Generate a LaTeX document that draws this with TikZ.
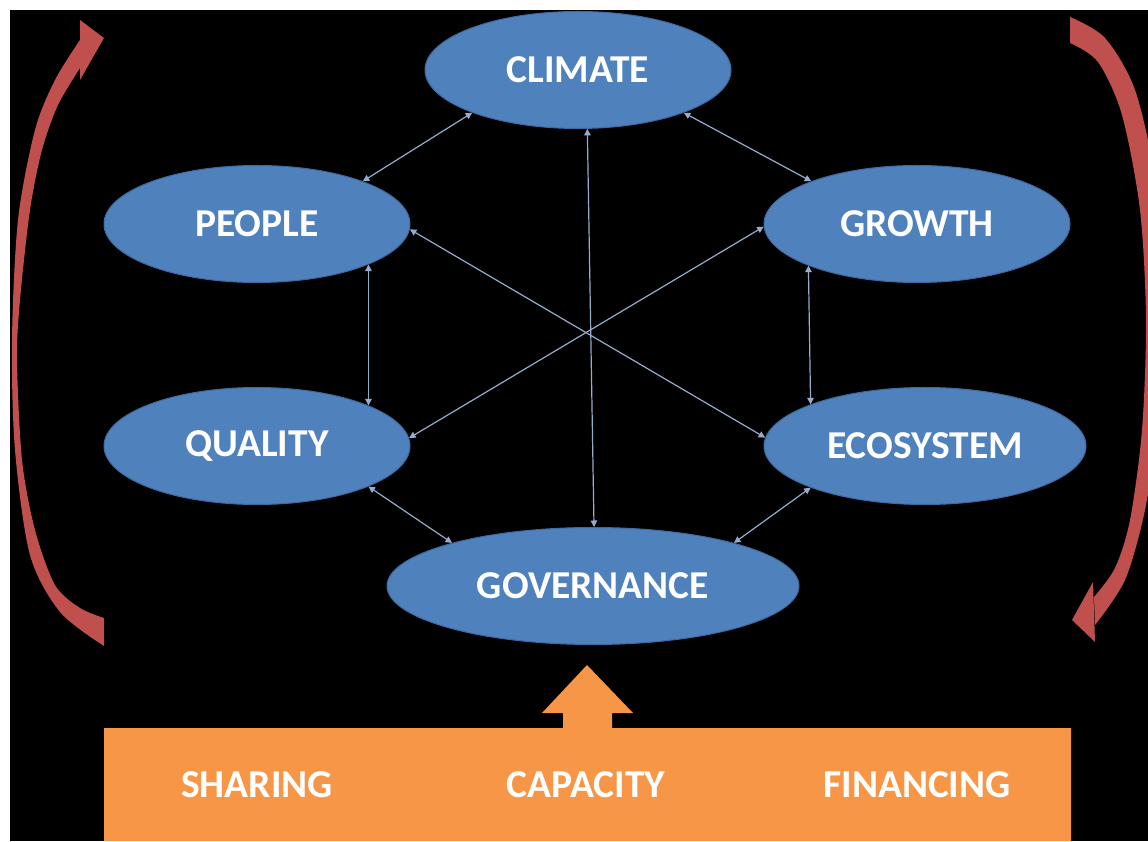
\documentclass[tikz,border=0pt]{standalone}
\usepackage{fontspec}
\setmainfont{Carlito}
\usetikzlibrary{shapes.geometric,arrows.meta}
\definecolor{boxblue}{HTML}{4F81BD}
\definecolor{rimblue}{HTML}{3D6AA0}
\definecolor{linkgray}{RGB}{150,172,205}
\definecolor{boxorange}{HTML}{F79646}
\definecolor{turnred}{HTML}{C0504D}
\tikzset{
  bubble/.style={ellipse,fill=boxblue,draw=rimblue,line width=1pt,inner sep=0pt,
    minimum width=306pt,minimum height=117pt,text=white,font=\fontsize{39.5}{42}\selectfont\bfseries},
  link/.style={draw=linkgray,line width=1.2pt,{Triangle[width=6.5pt,length=6.5pt]}-{Triangle[width=6.5pt,length=6.5pt]}},
  foot/.style={text=white,font=\fontsize{39.5}{42}\selectfont\bfseries}
}
\begin{document}
\begin{tikzpicture}[x=1pt,y=1pt]
    \useasboundingbox (0,0) rectangle (1148,841);
    \clip (0,0) rectangle (1148,841);
    \fill[black] (10,0) rectangle (1148,831);
    % the two turning arrows (screen coordinates)
    \begin{scope}[shift={(0,841)},yscale=-1]
    \fill[turnred] plot[smooth] coordinates {(104,646) (60,612) (30,555) (15,450) (12,340) (18,220)
      (35,130) (55,80) (80,40)}
      -- plot[smooth] coordinates {(80,68) (58,105) (42,150) (30,210) (20,300) (17,360) (22,460)
      (35,530) (55,585) (80,608) (104,618)} -- cycle;
    \fill[turnred] (80,20) -- (104,38) -- (80,80) -- cycle;
    \fill[turnred] plot[smooth] coordinates {(1070,17) (1105,38) (1135,90) (1155,180) (1163,300)
      (1158,420) (1145,510) (1125,580) (1095,625)}
      -- plot[smooth] coordinates {(1094,597) (1115,568) (1130,520) (1142,430) (1146,320) (1140,210)
      (1122,115) (1098,62) (1070,43)} -- cycle;
    \fill[turnred] (1093,582) -- (1072,620) -- (1095,642) -- cycle;
    \end{scope}
    % bubbles
    \node[bubble] (climate) at (578,771) {CLIMATE};
    \node[bubble] (people) at (257,617) {PEOPLE};
    \node[bubble] (growth) at (917,617) {GROWTH};
    \node[bubble] (quality) at (257,395) {QUALITY};
    \node[bubble,minimum width=322pt] (ecosys) at (925,395) {ECOSYSTEM};
    \node[bubble,minimum width=412pt] (gov) at (593,255) {GOVERNANCE};
    % links
    \draw[link] (climate.202) -- (people.22);
    \draw[link] (climate.338) -- (growth.158);
    \draw[link] (climate.279) -- (gov.89);
    \draw[link] (people.340) -- (quality.20);
    \draw[link] (growth.201) -- (ecosys.160);
    \draw[link] (people.358) -- (ecosys.177);
    \draw[link] (growth.181) -- (quality.3);
    \draw[link] (quality.340) -- (gov.163);
    \draw[link] (ecosys.200) -- (gov.17);
    % base with its arrow
    \fill[boxorange] (104,0) -- (104,113) -- (563,113) -- (563,128) -- (542,128) -- (587,176)
      -- (633,128) -- (612,128) -- (612,113) -- (1071,113) -- (1071,0) -- cycle;
    \node[foot] (sharing) at (257,56) {SHARING};
    \node[foot] (capacity) at (586,56) {CAPACITY};
    \node[foot] (financing) at (917,56) {FINANCING};
\end{tikzpicture}
\end{document}
